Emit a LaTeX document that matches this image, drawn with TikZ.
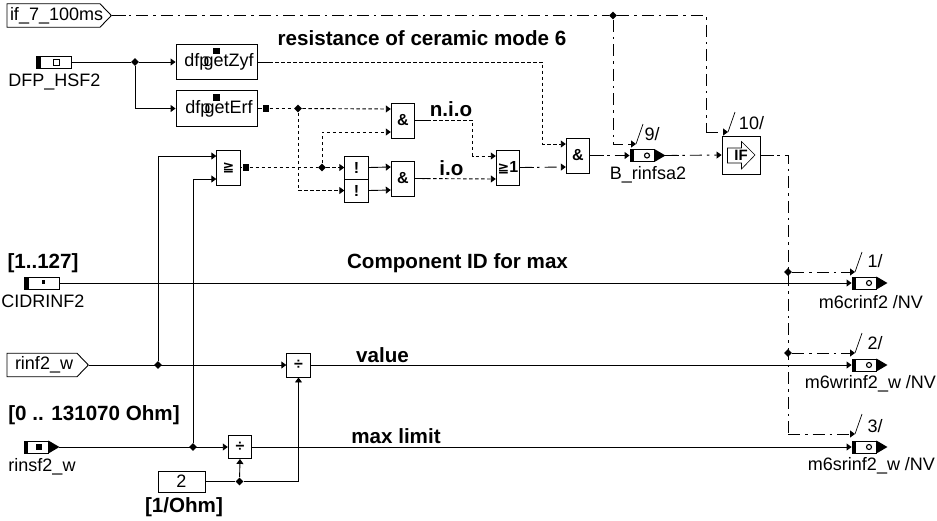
\documentclass[tikz,border=0pt]{standalone}
\usepackage{fontspec}
\setmainfont{Liberation Sans}
\newfontfamily\symfont{DejaVu Sans}
\usetikzlibrary{arrows.meta,calc,positioning,shapes.geometric,shapes.symbols}

\begin{document}
\begin{tikzpicture}[
    x=1pt,y=-1pt,line width=0.9pt,
    lbl/.style={inner sep=0,font=\fontsize{18}{18}\selectfont,text height=13,text depth=4},
    head/.style={lbl,font=\fontsize{20.6}{21}\selectfont\bfseries},
    gate/.style={draw,rectangle,inner sep=0,minimum width=23.5pt,minimum height=35pt,
                 font=\fontsize{16}{16}\selectfont\bfseries},
    fbox/.style={draw,rectangle,inner sep=0,minimum width=81pt,minimum height=35.5pt,
                 font=\fontsize{18}{18}\selectfont,text height=13,text depth=4},
    inport/.style={draw,rectangle,inner sep=0,minimum width=35pt,minimum height=12pt,
                   path picture={\fill (path picture bounding box.north west) rectangle ++(5,12);}},
    outport/.style={draw,rectangle,inner sep=0,minimum width=24pt,minimum height=12pt,
                    path picture={\fill (path picture bounding box.north west) rectangle ++(4,12);}},
    tag/.style={draw,signal,signal to=east,signal pointer angle=92,inner sep=0,
                minimum height=23.5pt,font=\fontsize{18}{18}\selectfont,text height=13,text depth=4},
    junc/.style={diamond,fill=black,inner sep=0,minimum size=8pt},
    sq/.style={rectangle,fill=black,inner sep=0,minimum size=6.5pt},
    wire/.style={-{Triangle[length=5pt,width=7pt]}},
    logic/.style={dash pattern=on 3.5pt off 2.5pt},
    ctl/.style={dash pattern=on 12pt off 5pt on 2.5pt off 5pt}
  ]
  \useasboundingbox (0,0) rectangle (937,520);
  % Inputs
  \node[tag] (ifs) at (53.5,15.5) {\makebox[93pt][l]{\hspace{3pt}if\_7\_100ms}};
  \node[tag] (rinf) at (42,365) {\makebox[70pt][l]{\hspace{8pt}rinf2\_w}};
  \node[inport] (dfp) at (53.5,62) {};
  \node[inport] (cid) at (41.5,283) {};
  \node[outport] (rsf) at (36,447) {};
  \node[lbl] (dfpl) at (54.5,82) {DFP\_HSF2};
  \node[lbl] (cidl) at (43,303) {CIDRINF2};
  \node[lbl] (rsfl) at (42,467) {rinsf2\_w};
  \node[head] (cidr) at (43,263.5) {[1..127]};
  \node[head] (rinr) at (94,415.5) {[0 .. 131070 Ohm]};
  \node[draw,rectangle,inner sep=0,minimum width=47pt,minimum height=21pt,
        font=\fontsize{18}{18}\selectfont] (konst) at (181.5,481.5) {2};
  \node[head] (konr) at (184,508) {[1/Ohm]};
  % Function and logic blocks
  \node[fbox] (zyf) at (216.5,62) {\hspace*{5pt}dfp\hspace{-6pt}getZyf};
  \node[fbox] (erf) at (216.5,108.5) {\hspace*{5pt}dfp\hspace{-6pt}getErf};
  \node[sq] (zyft) at ([yshift=11pt]zyf.center) {};
  \node[sq] (erft) at ([yshift=11pt]erf.center) {};
  \node[gate] (ge) at (228.5,167.5) {{\symfont\bfseries\fontsize{14}{14}\selectfont ≧}};
  \node[gate] (and1) at (403,120.5) {\&};
  \node[gate,minimum height=23pt] (no1) at (356.5,167.5) {!};
  \node[gate,minimum height=23pt] (no2) at (356.5,190.5) {!};
  \node[gate] (and2) at (403,178.5) {\&};
  \node[gate] (or) at (508,167.5) {{\symfont\bfseries\fontsize{14}{14}\selectfont ≧}1};
  \node[gate] (and3) at (578,155.5) {\&};
  \node[gate,minimum height=24pt] (div1) at (298.5,365) {÷};
  \node[gate,minimum height=23pt] (div2) at (240,447) {÷};
  \node[gate,minimum width=38pt,minimum height=38pt,font=\fontsize{15}{15}\selectfont\bfseries] (ifb) at (741,155) {IF};
  \draw[line width=0.6pt] (727.5,148) -- (741.5,148) -- (741.5,141.5) -- (755,155)
    -- (741.5,169) -- (741.5,163) -- (727.5,163) -- cycle;
  \node[outport] (brin) at (642,155.5) {};
  \node[lbl] (brinl) at (648,175) {B\_rinfsa2};
  \node[outport] (mc) at (864,283) {};
  \node[outport] (mw) at (864,365) {};
  \node[outport] (ms) at (864,447) {};
  \node[lbl] (mcl) at (871,304) {m6crinf2 /NV};
  \node[lbl] (mwl) at (870.5,384) {m6wrinf2\_w /NV};
  \node[lbl] (msl) at (871.5,466) {m6srinf2\_w /NV};
  % Port tips and marks
  \foreach \n in {rsf,brin,mc,mw,ms}{
    \coordinate (\n tip) at ([xshift=11pt]\n.east);
    \fill (\n.north east) -- (\n tip) -- (\n.south east) -- cycle;
  }
  \foreach \n in {brin,mc,mw,ms}{
    \draw[line width=1.1pt] ([xshift=5pt]\n.center) circle (2.5);
  }
  \fill (rsf.center) ++(0,-3) rectangle ++(6,6);
  \draw[line width=0.7pt,fill=white] (dfp.center) ++(0,-3) rectangle ++(6,6);
  \fill (cid.center) ++(0,-3) rectangle ++(3,4);
  % Gate inputs
  \foreach \n in {ge,and1,and2,or,and3}{
    \coordinate (\n a) at ([yshift=11.5pt]\n.west);
    \coordinate (\n b) at ([yshift=-11.5pt]\n.west);
  }
  \node[junc] (j0) at (613,15.5) {};
  \node[junc] (jd) at (135,62) {};
  \node[junc] (je) at (298,108.5) {};
  \node[junc] (jg) at (322,167.5) {};
  \node[junc] (jr) at (158,365) {};
  \node[junc] (js) at (193,447) {};
  \node[junc] (jk) at (239.5,481.5) {};
  \node[junc] (jc) at (788,272) {};
  \node[junc] (jw) at (788,353) {};
  \node[sq] (eo) at (266,108.5) {};
  \node[sq] (go) at (246,167.5) {};
  \coordinate (c10) at (706,132);
  \coordinate (t10) at (728,132);
  \coordinate (t9) at (636,144);
  \coordinate (t1) at (855,272);
  \coordinate (t2) at (855,353);
  \coordinate (t3) at (855,434);
  \coordinate (cb) at (788,434);
  % Solid wires
  \draw (dfp.east) -- (jd);
  \draw[wire] (jd) -- (zyf.west);
  \draw[wire] (jd) |- (erf.west);
  \draw[wire] (jr) |- (gea);
  \draw[wire] (js) |- (geb);
  \draw[wire] (cid.east) -- (mc.west);
  \draw[wire] (rinf.east) -- (div1.west);
  \draw[wire] (div1.east) -- (mw.west);
  \draw[wire] (rsftip) -- (div2.west);
  \draw[wire] (div2.east) -- (ms.west);
  \draw (konst.east) -- (jk);
  \draw[wire] (jk) -- (div2.south);
  \draw[wire] (jk) -| (div1.south);
  \draw (erf.east) -- (eo);
  \draw (ge.east) -- (go);
  \draw[wire] (no1.east) -- (and2a);
  \draw[wire] (no2.east) -- (and2b);
  % Logic wires
  \draw[logic] (eo) -- (je);
  \draw[logic,wire] (je) -- (and1a);
  \draw[logic,wire] (je) |- (no2.west);
  \draw[logic] (go) -- (jg);
  \draw[logic,wire] (jg) -- (no1.west);
  \draw[logic,wire] (jg) |- (and1b);
  \draw[logic,wire] (zyf.east) -| ($(and3a)+(-23,0)$) -- (and3a);
  \draw[logic,wire] (and1.east) -| ($(ora)+(-23,0)$) -- (ora);
  \draw[logic,wire] (and2.east) -- (orb);
  \draw[ctl,wire] (or.east) -- (and3b);
  \draw[ctl,wire] (and3.east) -- (brin.west);
  \draw[ctl,wire] (brintip) -- (ifb.west);
  % Control wires
  \draw[ctl] (ifs.east) -- (j0);
  \draw[ctl] (j0) -| (c10);
  \draw[ctl,wire] (c10) -- (t10);
  \draw[ctl,wire] (j0) |- (t9);
  \draw[ctl] (ifb.east) -| (cb);
  \draw[ctl,wire] (jc) -- (t1);
  \draw[ctl,wire] (jw) -- (t2);
  \draw[ctl,wire] (cb) -- (t3);
  % Solid starts of the broken wires
  \foreach \a in {ifs.east,zyf.east,and1.east,and2.east,or.east,and3.east,brintip,ifb.east}{
    \draw (\a) -- ++(14,0);
  }
  % Ticks
  \foreach \t in {t1,t2,t3,t9,t10}{
    \draw[line width=0.7pt] (\t) -- ++(7,-20);
  }
  \node[lbl] (n10) at (751.5,125) {10/};
  \node[lbl] (n9) at (652,136) {9/};
  \node[lbl] (n1) at (875,263) {1/};
  \node[lbl] (n2) at (875,345) {2/};
  \node[lbl] (n3) at (875,428) {3/};
  % Headings
  \node[head] (hres) at (422,41) {resistance of ceramic mode 6};
  \node[head] (hnio) at (451,112) {n.i.o};
  \node[head] (hio) at (451.5,170.5) {i.o};
  \node[head] (hcid) at (457.5,263.5) {Component ID for max};
  \node[head] (hval) at (382.5,357.5) {value};
  \node[head] (hmax) at (396,438.5) {max limit};
\end{tikzpicture}
\end{document}
